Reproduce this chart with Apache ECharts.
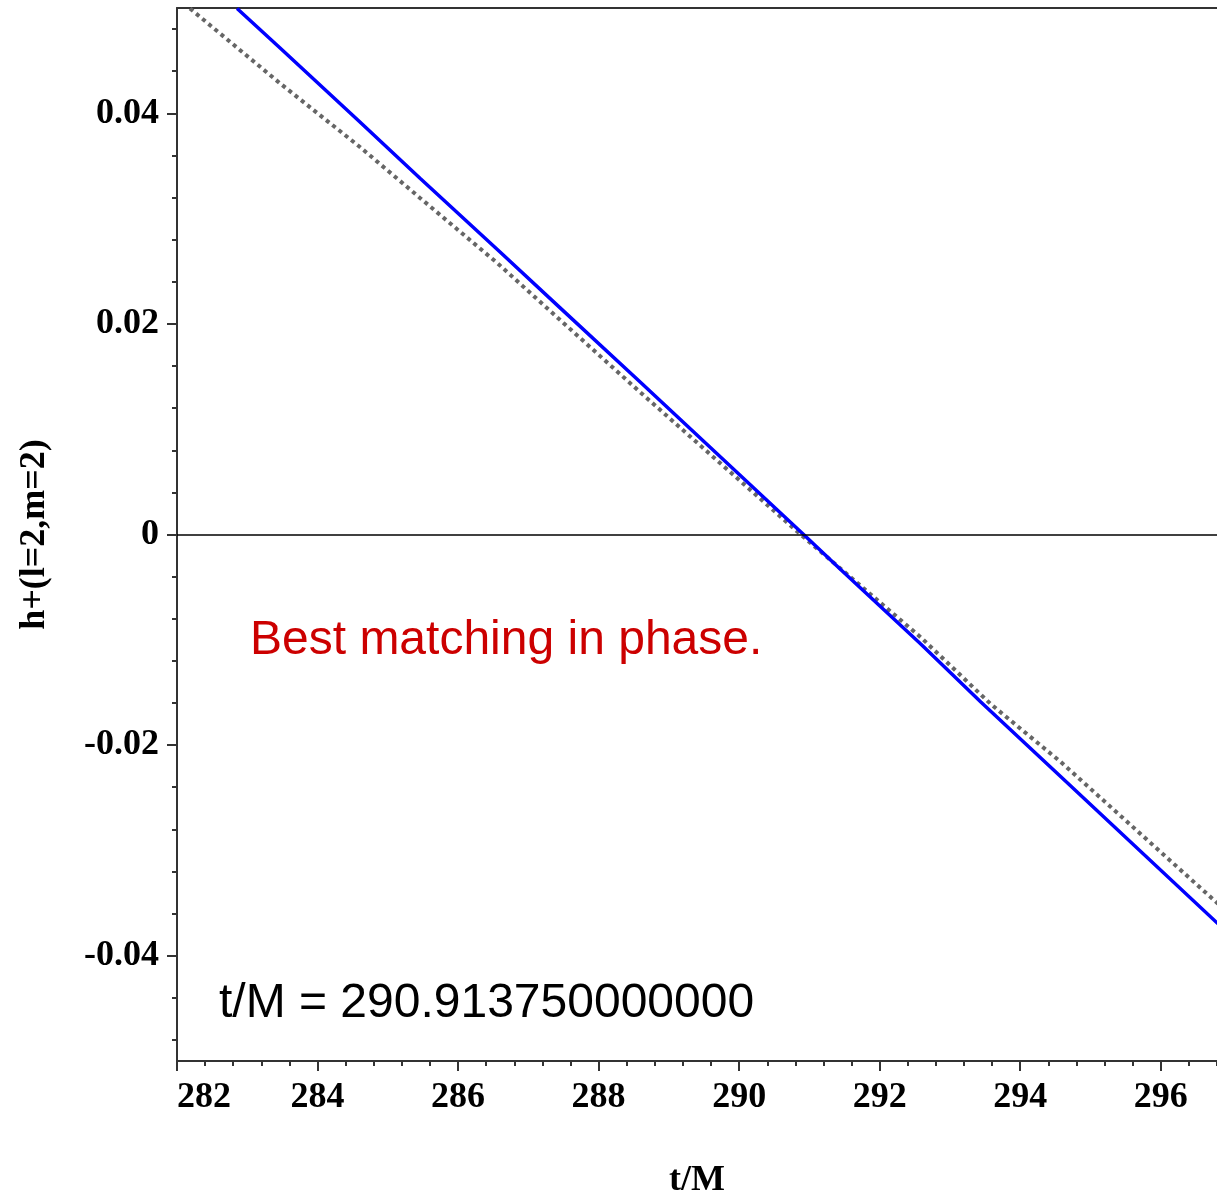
<!DOCTYPE html>
<html>
<head>
<meta charset="utf-8">
<script src="https://cdn.jsdelivr.net/npm/echarts@6/dist/echarts.min.js"></script>
<style>
html,body{margin:0;padding:0;background:#fff;overflow:hidden;}
#chart{width:1217px;height:1193px;}
</style>
</head>
<body>
<div id="chart"></div>
<script>
// Blue curve (numerical waveform)
var tBlue = [282.855, 283.467, 284.607, 285.462, 286.601, 287.456, 288.595, 290.917, 291.444, 292.584, 293.439, 294.578, 296.815];
var hBlue = [0.04995, 0.04620, 0.03915, 0.03380, 0.02680, 0.02150, 0.01445, 0.0, -0.00332, -0.01040, -0.01590, -0.02300, -0.03697];
// Grey dotted curve (reference waveform)
var tRef = [282.185, 283.467, 284.607, 285.462, 286.558, 287.499, 288.553, 290.875, 292.584, 293.581, 294.578, 296.815];
var hRef = [0.04995, 0.04284, 0.03678, 0.03194, 0.02578, 0.02009, 0.01374, 0.0, -0.00976, -0.01611, -0.02161, -0.03507];
// Tick values
var xMajor = [282, 284, 286, 288, 290, 292, 294, 296];
var yMajor = [-0.04, -0.02, 0, 0.02, 0.04];
var xMin = 282, xMax = 296.8, yMin = -0.05, yMax = 0.05;
var xMinor = [];
for (var i = 1; i <= 37; i++) { var v = Math.round((282 + i * 0.4) * 10) / 10; if (Math.abs(v / 2 - Math.round(v / 2)) > 1e-6) xMinor.push(v); }
var yMinor = [];
for (var j = -12; j <= 12; j++) { var w = Math.round(j * 4) / 1000; if (j % 5 !== 0) yMinor.push(w); }

var annotation1 = 'Best matching in phase.';
var annotation2 = 't/M = 290.913750000000';

function zip(a, b) { return a.map(function (x, k) { return [x, b[k]]; }); }

var axisFont = { fontFamily: 'Liberation Serif', fontWeight: 'bold', fontSize: 36, color: '#000' };
var lineCol = '#333';

var chart = echarts.init(document.getElementById('chart'), null, { renderer: 'canvas' });
chart.setOption({
  backgroundColor: '#fff',
  animation: false,
  grid: { left: 177, right: 0, top: 8, bottom: 132, containLabel: false, outerBoundsMode: 'none' },
  xAxis: [
    {
      type: 'value', min: xMin, max: xMax, position: 'bottom',
      name: 't/M', nameLocation: 'middle', nameGap: 102,
      nameTextStyle: { fontFamily: 'Liberation Serif', fontWeight: 'bold', fontSize: 36, color: '#000' },
      axisLine: { show: true, onZero: false, lineStyle: { color: lineCol, width: 2 } },
      axisTick: { show: true, inside: false, length: 10, customValues: xMajor, lineStyle: { color: lineCol, width: 2 } },
      axisLabel: Object.assign({ customValues: xMajor, margin: 19, alignMinLabel: 'left' }, axisFont),
      splitLine: { show: false }
    },
    {
      type: 'value', min: xMin, max: xMax, position: 'bottom',
      axisLine: { show: false, onZero: false },
      axisTick: { show: true, inside: false, length: 5, customValues: xMinor, lineStyle: { color: lineCol, width: 2 } },
      axisLabel: { show: false },
      splitLine: { show: false }
    },
    {
      type: 'value', min: xMin, max: xMax, position: 'top',
      axisLine: { show: true, onZero: false, lineStyle: { color: lineCol, width: 2 } },
      axisTick: { show: false }, axisLabel: { show: false }, splitLine: { show: false }
    }
  ],
  yAxis: [
    {
      type: 'value', min: yMin, max: yMax, position: 'left',
      name: 'h+(l=2,m=2)', nameLocation: 'middle', nameGap: 124, nameRotate: 90,
      nameTextStyle: { fontFamily: 'Liberation Serif', fontWeight: 'bold', fontSize: 36, color: '#000' },
      axisLine: { show: true, onZero: false, lineStyle: { color: lineCol, width: 2 } },
      axisTick: { show: true, inside: false, length: 10, customValues: yMajor, lineStyle: { color: lineCol, width: 2 } },
      axisLabel: Object.assign({ customValues: yMajor, margin: 18, padding: [8, 0, 0, 0], formatter: function (v) { return Math.abs(v) < 1e-9 ? '0' : String(+v.toFixed(2)); } }, axisFont),
      splitLine: { show: false }
    },
    {
      type: 'value', min: yMin, max: yMax, position: 'left',
      axisLine: { show: false, onZero: false },
      axisTick: { show: true, inside: false, length: 5, customValues: yMinor, lineStyle: { color: lineCol, width: 2 } },
      axisLabel: { show: false },
      splitLine: { show: false }
    }
  ],
  series: [
    {
      type: 'line', xAxisIndex: 0, yAxisIndex: 0,
      data: zip(tRef, hRef), showSymbol: false, symbol: 'none',
      lineStyle: { color: '#666', width: 4, type: [4, 4] },
      z: 2
    },
    {
      type: 'line', xAxisIndex: 0, yAxisIndex: 0,
      data: zip(tBlue, hBlue), showSymbol: false, symbol: 'none',
      lineStyle: { color: '#0000ff', width: 3.5 },
      z: 3,
      markLine: {
        silent: true, symbol: ['none', 'none'], label: { show: false },
        lineStyle: { color: '#000', width: 1.5, type: 'solid' },
        data: [{ yAxis: 0 }]
      }
    }
  ],
  graphic: [
    { type: 'text', left: 250, top: 617, style: { text: annotation1, font: '48px "Liberation Sans"', fill: '#cc0000' } },
    { type: 'text', left: 219, top: 980, style: { text: annotation2, font: '48px "Liberation Sans"', fill: '#000' } }
  ]
});
</script>
</body>
</html>
